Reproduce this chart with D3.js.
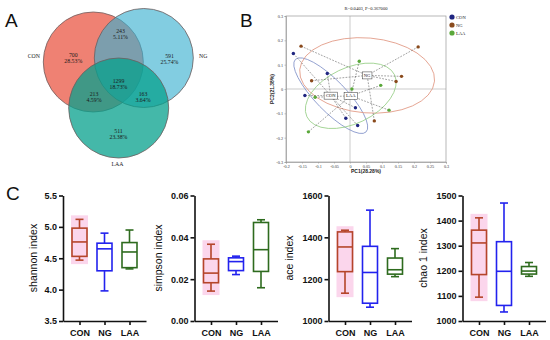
<!DOCTYPE html>
<html><head><meta charset="utf-8">
<script src="https://cdn.jsdelivr.net/npm/d3@7"></script>
<style>body{margin:0;background:#fff}svg{display:block}</style>
</head><body>
<svg id="c" width="550" height="340"></svg>
<script>
// ---------------- DATA ----------------
// Venn (panel A)
const vennSets = ["CON", "NG", "LAA"];
const vennRegions = ["CON", "NG", "LAA", "CON&NG", "CON&LAA", "NG&LAA", "CON&NG&LAA"];
const vennCounts = [700, 591, 511, 243, 213, 163, 1299];
const vennPcts = ["28.53%", "25.74%", "23.38%", "5.11%", "4.59%", "3.64%", "18.73%"];

// PCA (panel B)
const pcaTitle = "R=0.0403, P=0.367000";
const pcaXLabel = "PC1(28.28%)";
const pcaYLabel = "PC2(21.38%)";
const pcaGroups = ["CON", "NG", "LAA"];
const pcaCON = [[-0.177, 0.146], [-0.071, 0.064], [-0.141, -0.027], [0.017, -0.077], [-0.013, -0.120], [0.024, -0.150]];
const pcaNG  = [[-0.153, 0.176], [0.213, 0.173], [-0.120, 0.034], [0.161, 0.052], [0.144, 0.031], [0.076, -0.131]];
const pcaLAA = [[0.029, 0.114], [0.006, 0.000], [0.096, 0.015], [-0.109, -0.034], [0.122, -0.087], [-0.130, -0.176]];
const pcaXTicks = [-0.2, -0.15, -0.1, -0.05, 0, 0.05, 0.1, 0.15, 0.2, 0.25, 0.3];
const pcaYTicks = [-0.3, -0.2, -0.1, 0, 0.1, 0.2, 0.3];

// Box plots (panel C): [min, q1, median, q3, max] for CON, NG, LAA
const boxGroups = ["CON", "NG", "LAA"];
const shannonStats = [[4.47, 4.53, 4.76, 4.98, 5.12], [3.98, 4.30, 4.65, 4.74, 4.90], [4.33, 4.35, 4.60, 4.75, 4.95]];
const simpsonStats = [[0.0143, 0.0183, 0.0229, 0.0297, 0.0367], [0.0222, 0.0241, 0.0284, 0.0302, 0.0310], [0.0159, 0.0237, 0.0341, 0.0471, 0.0484]];
const aceStats = [[1133, 1236, 1354, 1426, 1434], [1066, 1085, 1232, 1357, 1530], [1212, 1224, 1245, 1301, 1346]];
const chaoStats = [[1095, 1185, 1311, 1362, 1411], [1036, 1062, 1198, 1316, 1470], [1178, 1187, 1199, 1217, 1233]];
const shannonTicks = [3.5, 4.0, 4.5, 5.0, 5.5];
const simpsonTicks = [0.00, 0.02, 0.04, 0.06];
const aceTicks = [1000, 1200, 1400, 1600];
const chaoTicks = [1000, 1100, 1200, 1300, 1400, 1500];

// ---------------- DRAW ----------------
const svg = d3.select("#c");
const SANS = "'Liberation Sans', Arial, sans-serif";
const SERIF = "'Liberation Serif', 'Times New Roman', serif";

// panel letters
[["A", 5, 27], ["B", 240, 27], ["C", 6, 200]].forEach(([t, x, y]) =>
  svg.append("text").attr("x", x).attr("y", y).text(t)
    .attr("font-family", SANS).attr("font-size", 19).attr("fill", "#111"));

// ---- Panel A: Venn ----
const vennGeom = {
  CON: {cx: 93.3, cy: 62, r: 50, fill: "#ee7a6c", op: 0.95},
  NG:  {cx: 143.8, cy: 58, r: 49.5, fill: "#39b0cf", op: 0.63},
  LAA: {cx: 118.7, cy: 108, r: 50, fill: "#05a08c", op: 0.75}
};
const gA = svg.append("g");
gA.selectAll("circle").data(vennSets).join("circle")
  .attr("cx", d => vennGeom[d].cx).attr("cy", d => vennGeom[d].cy).attr("r", d => vennGeom[d].r)
  .attr("fill", d => vennGeom[d].fill).attr("fill-opacity", d => vennGeom[d].op)
  .attr("stroke", "#6d5d5d").attr("stroke-width", 0.8);
const regionPos = {
  "CON": [73.3, 56.5], "NG": [169.5, 58], "LAA": [118.5, 132.7],
  "CON&NG": [120.5, 33.3], "CON&LAA": [94, 95.5], "NG&LAA": [143, 95.5], "CON&NG&LAA": [118.5, 83]
};
vennRegions.forEach((r, i) => {
  const [x, y] = regionPos[r];
  gA.append("text").attr("x", x).attr("y", y).attr("text-anchor", "middle").text(vennCounts[i])
    .attr("font-family", SERIF).attr("font-size", 5.8).attr("fill", "#1a1a1a");
  gA.append("text").attr("x", x).attr("y", y + 6).attr("text-anchor", "middle").text(vennPcts[i])
    .attr("font-family", SERIF).attr("font-size", 5.8).attr("fill", "#1a1a1a");
});
const setLabelPos = {CON: [40, 58.3, "end"], NG: [199, 58.3, "start"], LAA: [117.5, 165.5, "middle"]};
vennSets.forEach(s => {
  const [x, y, a] = setLabelPos[s];
  gA.append("text").attr("x", x).attr("y", y).attr("text-anchor", a).text(s)
    .attr("font-family", SERIF).attr("font-size", 5.8).attr("fill", "#1a1a1a");
});

// ---- Panel B: PCA ----
const px = d3.scaleLinear([-0.2, 0.3], [286, 446]);
const py = d3.scaleLinear([-0.3, 0.3], [162, 16]);
const gB = svg.append("g");
const pcaColors = {CON: "#1f2580", NG: "#8a4a1c", LAA: "#5aa83a"};
const ellColors = {CON: "#8090c8", NG: "#e0937e", LAA: "#9ad08a"};
const pcaData = {CON: pcaCON, NG: pcaNG, LAA: pcaLAA};

gB.append("rect").attr("x", px(-0.2)).attr("y", py(0.3)).attr("width", px(0.3) - px(-0.2)).attr("height", py(-0.3) - py(0.3))
  .attr("fill", "none").attr("stroke", "#999").attr("stroke-width", 0.7);
gB.append("line").attr("x1", px(0)).attr("x2", px(0)).attr("y1", py(0.3)).attr("y2", py(-0.3)).attr("stroke", "#aaa").attr("stroke-width", 0.6);
gB.append("line").attr("x1", px(-0.2)).attr("x2", px(0.3)).attr("y1", py(0)).attr("y2", py(0)).attr("stroke", "#aaa").attr("stroke-width", 0.6);

const xAx = gB.append("g").attr("transform", `translate(0,${py(-0.3)})`)
  .call(d3.axisBottom(px).tickValues(pcaXTicks).tickFormat(d => d === 0 ? "0" : d).tickSize(1.5).tickPadding(1.5));
const yAx = gB.append("g").attr("transform", `translate(${px(-0.2)},0)`)
  .call(d3.axisLeft(py).tickValues(pcaYTicks).tickFormat(d => d === 0 ? "0" : d).tickSize(1.5).tickPadding(1.5));
[xAx, yAx].forEach(a => {
  a.select(".domain").attr("stroke", "#999").attr("stroke-width", 0.7);
  a.selectAll("line").attr("stroke", "#999").attr("stroke-width", 0.6);
  a.selectAll("text").attr("font-family", SERIF).attr("font-size", 4.2).attr("fill", "#333");
});
gB.append("text").attr("x", (px(-0.2) + px(0.3)) / 2).attr("y", 10).attr("text-anchor", "middle").text(pcaTitle)
  .attr("font-family", SERIF).attr("font-size", 4.6).attr("fill", "#222");
gB.append("text").attr("x", (px(-0.2) + px(0.3)) / 2).attr("y", 173).attr("text-anchor", "middle").text(pcaXLabel)
  .attr("font-family", SANS).attr("font-weight", "bold").attr("font-size", 5).attr("fill", "#222");
gB.append("text").attr("transform", `translate(274,${(py(0.3) + py(-0.3)) / 2}) rotate(-90)`).attr("text-anchor", "middle").text(pcaYLabel)
  .attr("font-family", SANS).attr("font-weight", "bold").attr("font-size", 5).attr("fill", "#222");

const K = 1.37;
const cents = {};
pcaGroups.forEach(g => {
  const pts = pcaData[g].map(d => [px(d[0]), py(d[1])]);
  const n = pts.length;
  const mx = d3.mean(pts, p => p[0]), my = d3.mean(pts, p => p[1]);
  cents[g] = [mx, my];
  let sxx = 0, syy = 0, sxy = 0;
  pts.forEach(([x, y]) => { sxx += (x - mx) ** 2; syy += (y - my) ** 2; sxy += (x - mx) * (y - my); });
  sxx /= n - 1; syy /= n - 1; sxy /= n - 1;
  const tr = (sxx + syy) / 2, dd = Math.sqrt(((sxx - syy) / 2) ** 2 + sxy ** 2);
  const ang = 0.5 * Math.atan2(2 * sxy, sxx - syy) * 180 / Math.PI;
  gB.append("ellipse").attr("cx", mx).attr("cy", my).attr("rx", K * Math.sqrt(tr + dd)).attr("ry", K * Math.sqrt(tr - dd))
    .attr("transform", `rotate(${ang},${mx},${my})`)
    .attr("fill", "none").attr("stroke", ellColors[g]).attr("stroke-width", 0.8);
});
pcaGroups.forEach(g => {
  const [mx, my] = cents[g];
  gB.selectAll(null).data(pcaData[g]).join("line")
    .attr("x1", d => px(d[0])).attr("y1", d => py(d[1])).attr("x2", mx).attr("y2", my)
    .attr("stroke", "#555").attr("stroke-width", 0.55).attr("stroke-dasharray", "1.8,1.3");
});
pcaGroups.forEach(g => {
  gB.selectAll(null).data(pcaData[g]).join("circle")
    .attr("cx", d => px(d[0])).attr("cy", d => py(d[1])).attr("r", 1.7).attr("fill", pcaColors[g]);
});
pcaGroups.forEach(g => {
  const [mx, my] = cents[g];
  const w = g.length * 3.6 + 2.5;
  gB.append("rect").attr("x", mx - w / 2).attr("y", my - 3.5).attr("width", w).attr("height", 7)
    .attr("fill", "#fff").attr("stroke", "#333").attr("stroke-width", 0.5);
  gB.append("text").attr("x", mx).attr("y", my + 1.6).attr("text-anchor", "middle").text(g)
    .attr("font-family", SERIF).attr("font-size", 4.6).attr("fill", "#111");
});
// legend
pcaGroups.forEach((g, i) => {
  gB.append("circle").attr("cx", 452).attr("cy", 17 + i * 8).attr("r", 2.6).attr("fill", pcaColors[g]);
  gB.append("text").attr("x", 456).attr("y", 18.6 + i * 8).text(g)
    .attr("font-family", SERIF).attr("font-size", 4.6).attr("fill", "#222");
});

// ---- Panel C: box plots ----
const boxColors = ["#b5452a", "#2222ee", "#2e6b1e"];
const plots = [
  {title: "shannon index", stats: shannonStats, domain: [3.5, 5.5], ticks: shannonTicks, fmt: ".1f", ax: 63, tx: 37},
  {title: "simpson index", stats: simpsonStats, domain: [0, 0.06], ticks: simpsonTicks, fmt: ".2f", ax: 194.5, tx: 162},
  {title: "ace index", stats: aceStats, domain: [1000, 1600], ticks: aceTicks, fmt: "d", ax: 328.5, tx: 293},
  {title: "chao 1 index", stats: chaoStats, domain: [1000, 1500], ticks: chaoTicks, fmt: "d", ax: 462.5, tx: 427}
];
plots.forEach(cfg => {
  const g = svg.append("g");
  const y = d3.scaleLinear(cfg.domain, [321, 195.5]);
  const x = d3.scalePoint(boxGroups, [cfg.ax, cfg.ax + 83]).padding(0.66);
  const bw = 15, cw = 8;
  const s0 = cfg.stats[0];
  g.append("rect").attr("x", x("CON") - 8.5).attr("width", 17)
    .attr("y", y(s0[4]) - 4).attr("height", y(s0[0]) - y(s0[4]) + 8)
    .attr("fill", "#fbd6ec");
  boxGroups.forEach((grp, i) => {
    const s = cfg.stats[i], cx = x(grp), col = boxColors[i];
    const bg = g.append("g").attr("stroke", col).attr("stroke-width", 1.6).attr("fill", "none");
    bg.append("line").attr("x1", cx).attr("x2", cx).attr("y1", y(s[0])).attr("y2", y(s[1]));
    bg.append("line").attr("x1", cx).attr("x2", cx).attr("y1", y(s[3])).attr("y2", y(s[4]));
    bg.append("line").attr("x1", cx - cw / 2).attr("x2", cx + cw / 2).attr("y1", y(s[0])).attr("y2", y(s[0]));
    bg.append("line").attr("x1", cx - cw / 2).attr("x2", cx + cw / 2).attr("y1", y(s[4])).attr("y2", y(s[4]));
    bg.append("rect").attr("x", cx - bw / 2).attr("width", bw).attr("y", y(s[3])).attr("height", y(s[1]) - y(s[3]));
    bg.append("line").attr("x1", cx - bw / 2).attr("x2", cx + bw / 2).attr("y1", y(s[2])).attr("y2", y(s[2]));
  });
  const ya = g.append("g").attr("transform", `translate(${cfg.ax},0)`)
    .call(d3.axisLeft(y).tickValues(cfg.ticks).tickFormat(d3.format(cfg.fmt)).tickSize(4).tickSizeOuter(0).tickPadding(2));
  const xa = g.append("g").attr("transform", "translate(0,321)")
    .call(d3.axisBottom(x).tickSize(4).tickSizeOuter(0).tickPadding(5));
  [ya, xa].forEach(a => {
    a.selectAll("path,line").attr("stroke", "#111").attr("stroke-width", 1.6);
    a.selectAll("text").attr("font-family", SANS).attr("font-weight", "bold").attr("font-size", 9).attr("fill", "#111");
  });
  g.append("text").attr("transform", `translate(${cfg.tx},258) rotate(-90)`).attr("text-anchor", "middle").text(cfg.title)
    .attr("font-family", SANS).attr("font-size", 10.5).attr("fill", "#111");
});
</script>
</body></html>
